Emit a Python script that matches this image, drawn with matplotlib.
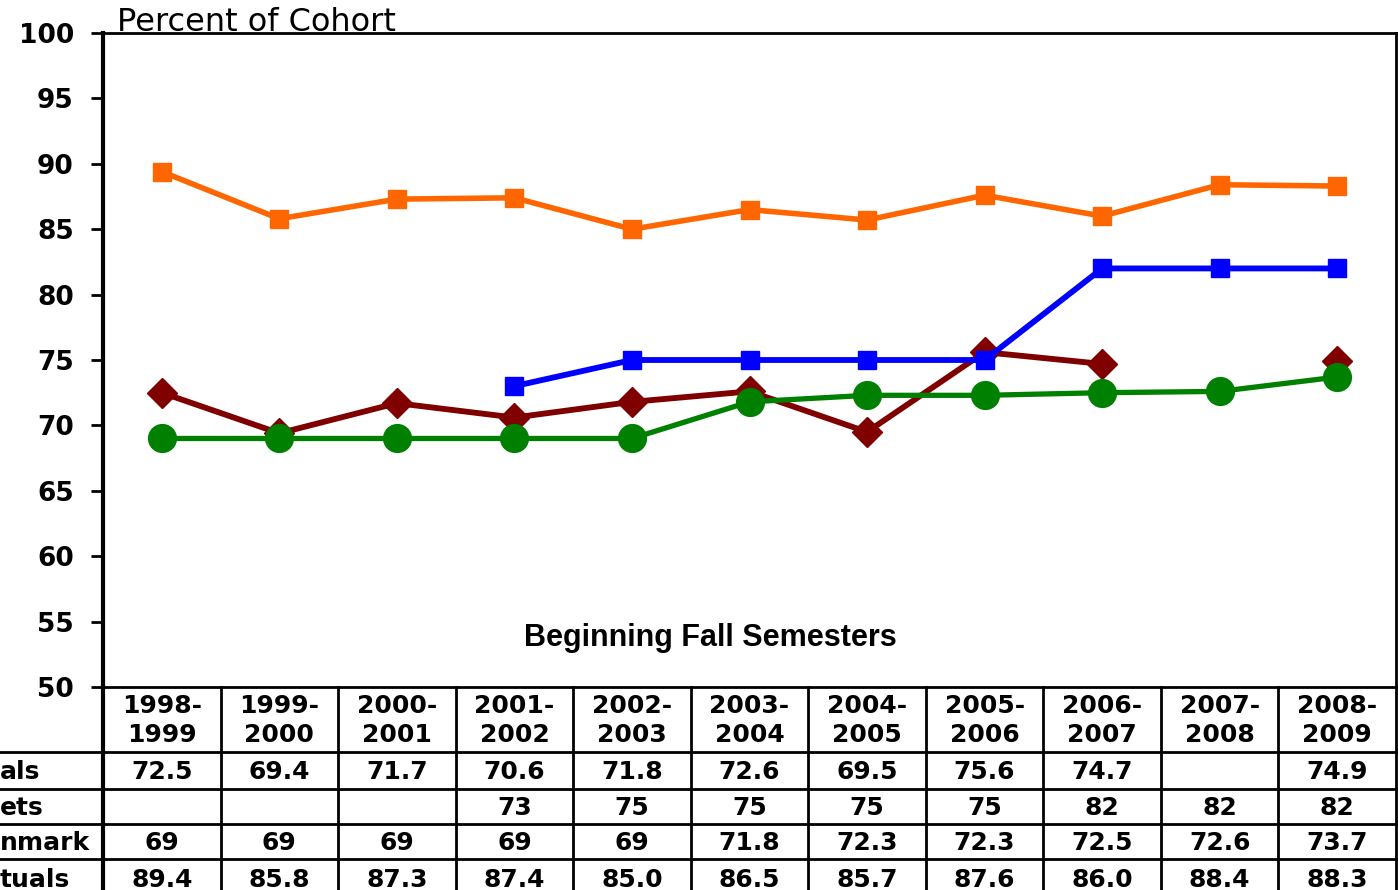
import numpy as np
import matplotlib
matplotlib.use("Agg")
import matplotlib.pyplot as plt

semesters = ["1998-\n1999", "1999-\n2000", "2000-\n2001", "2001-\n2002",
             "2002-\n2003", "2003-\n2004", "2004-\n2005", "2005-\n2006",
             "2006-\n2007", "2007-\n2008", "2008-\n2009"]
nan = np.nan
actuals = [72.5, 69.4, 71.7, 70.6, 71.8, 72.6, 69.5, 75.6, 74.7, nan, 74.9]
targets = [nan, nan, nan, 73, 75, 75, 75, 75, 82, 82, 82]
benchmark = [69, 69, 69, 69, 69, 71.8, 72.3, 72.3, 72.5, 72.6, 73.7]
peer_actuals = [89.4, 85.8, 87.3, 87.4, 85.0, 86.5, 85.7, 87.6, 86.0, 88.4, 88.3]

# row labels as they show (cut off by the left edge of the picture)
row_labels = ["als", "ets", "nmark", "tuals"]
row_formats = ["{:.1f}", "{:g}", "{:g}", "{:.1f}"]
yticks = list(range(50, 101, 5))

W, H = 1398, 890
fig = plt.figure(figsize=(W / 100, H / 100), dpi=100)

# main plot area, in pixels
left, right, top, bottom = 103, 1396, 33, 687
ax = fig.add_axes([left / W, 1 - bottom / H, (right - left) / W, (bottom - top) / H])

x = np.arange(len(semesters))
ax.plot(x, actuals, color="#800000", lw=4.2, marker="D", ms=15, zorder=2)
ax.plot(x, benchmark, color="#008000", lw=3.8, marker="o", ms=20, zorder=3)
ax.plot(x, targets, color="#0000FF", lw=4.2, marker="s", ms=13, zorder=4)
ax.plot(x, peer_actuals, color="#FF6600", lw=4.0, marker="s", ms=13, zorder=5)

ax.set_xlim(-0.5, len(semesters) - 0.5)
ax.set_ylim(50, 100)
ax.set_yticks(yticks)
ax.set_xticks([])
ax.tick_params(axis="y", length=9, width=2, pad=12, labelsize=19)
for lbl in ax.get_yticklabels():
    lbl.set_fontweight("bold")
for s in ax.spines.values():
    s.set_linewidth(2)
ax.spines["left"].set_linewidth(3)

ax.text(0.011, 1.003, "Percent of Cohort", transform=ax.transAxes,
        fontsize=23, va="baseline", ha="left")
ax.text(0.470, 0.075, "Beginning Fall Semesters", transform=ax.transAxes,
        fontsize=22, fontweight="bold", family="Liberation Sans",
        ha="center", va="center")

# data table underneath, axes spanning full width, y in pixel rows
tax = fig.add_axes([0, 0, 1, 1 - bottom / H])
col_w = (right - left) / len(semesters)
tax.set_xlim(-0.5 - left / col_w, len(semesters) - 0.5 + (W - right) / col_w)
tax.set_ylim(H, bottom)
tax.axis("off")

row_edges = [687, 752, 789, 824, 859, H + 10]
for yy in row_edges[1:-1]:
    tax.plot(tax.get_xlim(), [yy, yy], color="black", lw=2, clip_on=False)
for k in range(len(semesters) + 1):
    tax.plot([k - 0.5, k - 0.5], [bottom, H + 10], color="black",
             lw=3 if k == 0 else 2, clip_on=False)

hc = (row_edges[0] + row_edges[1]) / 2
for i, lab in enumerate(semesters):
    tax.text(i, hc + 1, lab, ha="center", va="center", fontsize=18,
             fontweight="bold", linespacing=1.25)

series = [actuals, targets, benchmark, peer_actuals]
for r, (vals, fmt, name) in enumerate(zip(series, row_formats, row_labels)):
    yc = (row_edges[r + 1] + row_edges[r + 2]) / 2
    if r == 3:
        yc = 879
    tax.text(tax.get_xlim()[0], yc + 1, name, ha="left", va="center",
             fontsize=18, fontweight="bold")
    for i, v in enumerate(vals):
        if not np.isnan(v):
            tax.text(i, yc + 1, fmt.format(v), ha="center", va="center",
                     fontsize=18, fontweight="bold")

fig.savefig("out.png", dpi=100)
